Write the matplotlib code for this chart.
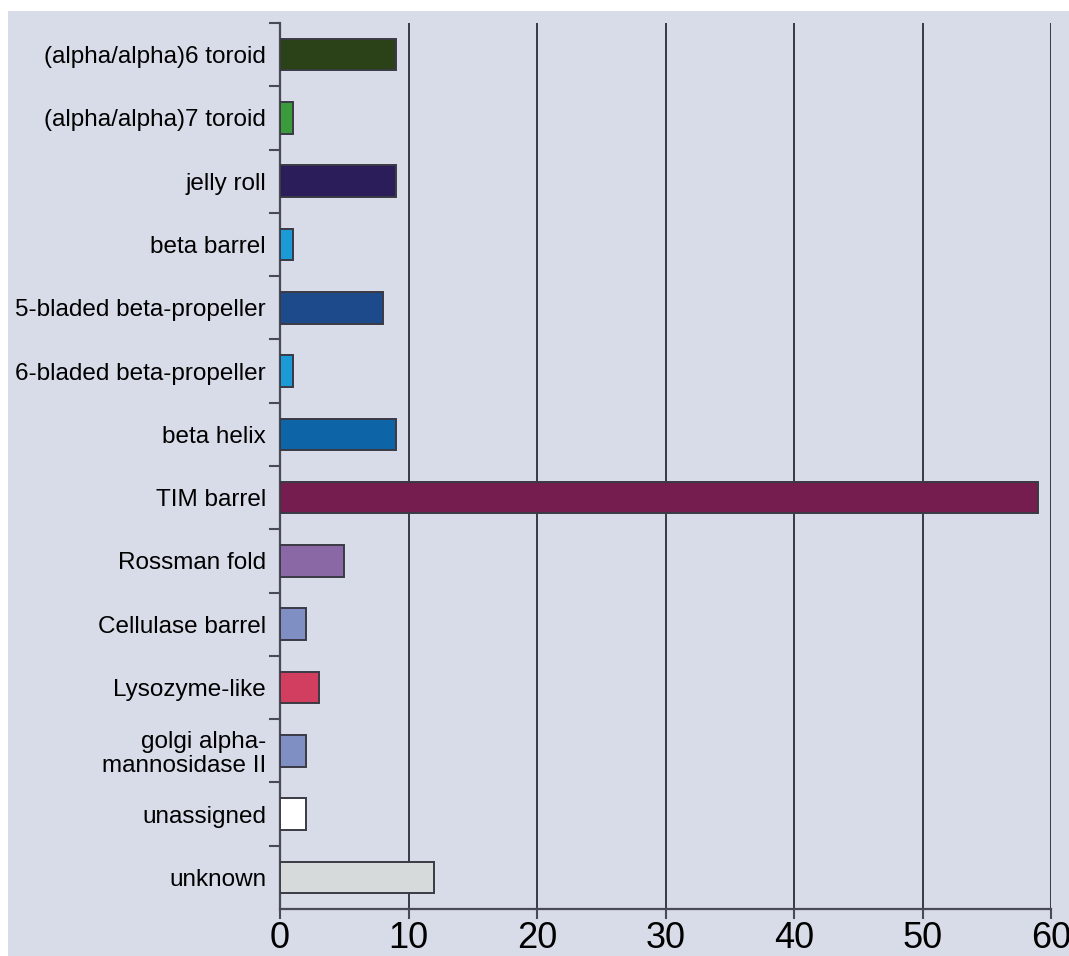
import matplotlib.pyplot as plt
from matplotlib.patches import Rectangle
from matplotlib.ticker import FixedLocator

# data
categories = [
    "(alpha/alpha)6 toroid",
    "(alpha/alpha)7 toroid",
    "jelly roll",
    "beta barrel",
    "5-bladed beta-propeller",
    "6-bladed beta-propeller",
    "beta helix",
    "TIM barrel",
    "Rossman fold",
    "Cellulase barrel",
    "Lysozyme-like",
    "golgi alpha-\nmannosidase II",
    "unassigned",
    "unknown",
]
counts = [9, 1, 9, 1, 8, 1, 9, 59, 5, 2, 3, 2, 2, 12]
bar_colors = [
    "#2b4219", "#3b9a3c", "#2a1d5a", "#1b9ad8", "#1d4a8a", "#1b9ad8", "#0d64a6",
    "#751d4e", "#8a68a6", "#7f8fc4", "#d23e60", "#7f8fc4", "#ffffff", "#d7dadb",
]
x_ticks = [0, 10, 20, 30, 40, 50, 60]

BG = "#d7dce8"

fig = plt.figure(figsize=(10.69, 9.56), dpi=100)
fig.patch.set_facecolor("white")
bg = Rectangle((8 / 1069, 0), 1, 1 - 11 / 956, transform=fig.transFigure,
               facecolor=BG, edgecolor="none", zorder=-10)
fig.add_artist(bg)

ax = fig.add_axes([280 / 1069, 1 - 909 / 956, (1051 - 280) / 1069, (909 - 23) / 956])
ax.set_facecolor("none")

ypos = list(range(len(categories)))
ax.barh(ypos, counts, height=0.5, color=bar_colors, edgecolor="#3a3a44", linewidth=1.4, zorder=3)

ax.set_xlim(0, 60)
ax.set_ylim(len(categories) - 0.5, -0.5)

for x in x_ticks[1:]:
    ax.axvline(x, color="#1e1e28", linewidth=1.2, zorder=1)

for s in ["top", "right"]:
    ax.spines[s].set_visible(False)
for s in ["left", "bottom"]:
    ax.spines[s].set_color("#4a4a55")
    ax.spines[s].set_linewidth(1.6)

ax.set_yticks(ypos)
ax.set_yticklabels(categories, fontsize=17.5, fontfamily="Liberation Sans", linespacing=1.1)
ax.tick_params(axis="y", which="major", length=0, pad=10)
ax.yaxis.set_minor_locator(FixedLocator([i - 0.5 for i in range(len(categories))]))
ax.tick_params(axis="y", which="minor", length=8, width=1.5, color="#4a4a55", direction="out")
for lbl in ax.get_yticklabels():
    lbl.set_multialignment("right")

ax.set_xticks(x_ticks)
ax.set_xticklabels([str(v) for v in x_ticks], fontsize=26, fontfamily="Liberation Sans")
ax.tick_params(axis="x", length=7, width=1.5, color="#4a4a55", pad=2)

fig.savefig("out.png", dpi=100, facecolor="white")
